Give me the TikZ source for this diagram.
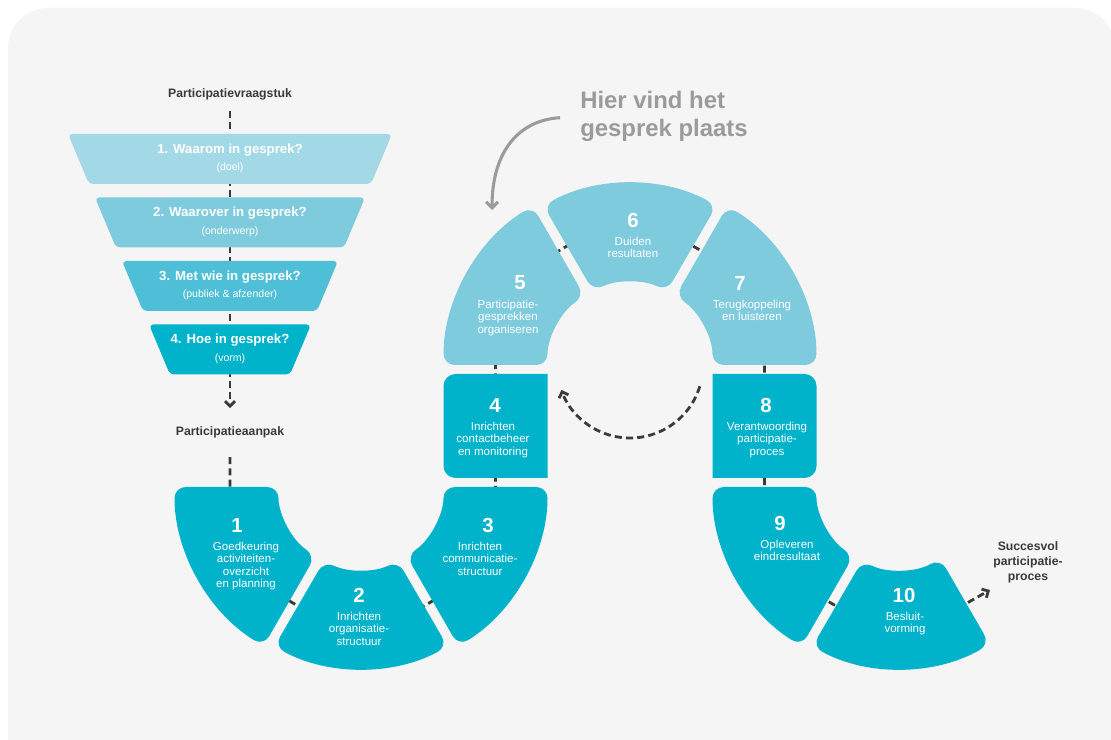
\documentclass[tikz,border=0pt]{standalone}
\usepackage{fontspec}
\setmainfont{Liberation Sans}
\usetikzlibrary{calc,arrows.meta}
\definecolor{achter}{HTML}{F5F5F5}
\definecolor{petrol}{HTML}{00B2CA}
\definecolor{licht}{HTML}{7ECBDD}
\definecolor{fblauw}{HTML}{A3D8E6}
\definecolor{mblauw}{HTML}{4EBFD6}
\definecolor{inkt}{HTML}{3A3A3A}
\definecolor{grijs}{HTML}{9B9B9B}
\tikzset{%
  tseg/.style={fill=petrol,rounded corners=8pt},
  lseg/.style={fill=licht,rounded corners=8pt},
  fseg/.style={rounded corners=3pt},
  snum/.style={text=white,inner sep=0,font=\bfseries\fontsize{14.5}{14.5}\selectfont},
  stxt/.style={text=white,inner sep=0,anchor=north,align=center,font=\fontsize{8.2}{8.7}\selectfont},
  ftitel/.style={text=white,inner sep=0,font=\bfseries\fontsize{9.4}{10}\selectfont},
  fsub/.style={text=white,inner sep=0,font=\fontsize{7.5}{8}\selectfont},
  klabel/.style={text=inkt,inner sep=0,align=center,font=\bfseries\fontsize{8.7}{10.7}\selectfont},
  dline/.style={draw=inkt,line width=2pt,dash pattern=on 5pt off 3pt}
}
\begin{document}
\begin{tikzpicture}[x=0.025cm,y=-0.025cm,>={Straight Barb[angle=90:5pt]}]
  \path[use as bounding box,fill=white] (0,0) rectangle (1111,740);
  \fill[achter,rounded corners=1cm] (8,8) rectangle (1115,780);
  \def\rin{82.5} \def\rout{186.5} \def\rmid{134.5}
  \coordinate (C1) at (361,487);
  \coordinate (C2) at (630,365);
  \coordinate (C3) at (899,487);
  \coordinate (ziel) at (492,210);
  \coordinate (eind) at (990,590);
  % labels
  \node[klabel] (vraag) at (230,94) {Participatievraagstuk};
  \node[klabel] (aanpak) at (230,432) {Participatieaanpak};
  \node[klabel] (succes) at (1028,562) {Succesvol\\participatie-\\proces};
  \node[text=grijs,inner sep=0,anchor=north west,align=left,font=\bfseries\fontsize{17}{20}\selectfont] (hier) at (580,91) {Hier vind het\\gesprek plaats};
  % dashed lines
  \draw[dline,->,shorten <=0.28cm,shorten >=0.45cm] (vraag) -- (aanpak);
  \draw[dline,->,shorten <=0.48cm] (aanpak) -- (aanpak |- C1) -- ($(C1)+(180:\rmid)$)
    arc[start angle=180,end angle=0,radius=\rmid] -- ($(C2)+(180:\rmid)$)
    arc[start angle=180,end angle=360,radius=\rmid] -- ($(C3)+(180:\rmid)$)
    arc[start angle=180,end angle=60,radius=\rmid] -- (eind);
  \draw[dline,->] ($(C2)+(17:73)$) arc[start angle=17,end angle=160,radius=73];
  \draw[grijs,line width=2.2pt,-{Straight Barb[angle=90:6pt]},shorten <=0.5cm]
    (hier.west) .. controls (520,120) and (492,150) .. (ziel);
  % funnel
  \foreach \i/\kl/\vr/\ond in {1/fblauw/1. Waarom in gesprek?/(doel),
      2/licht/2. Waarover in gesprek?/(onderwerp),
      3/mblauw/3. Met wie in gesprek?/(publiek \& afzender),
      4/petrol/4. Hoe in gesprek?/(vorm)}{
    \pgfmathsetmacro\ty{134+63.5*(\i-1)}
    \pgfmathsetmacro\hw{162-27*(\i-1)}
    \fill[fseg,\kl] (230-\hw,\ty) -- (230+\hw,\ty) -- (209+\hw,\ty+50) -- (251-\hw,\ty+50) -- cycle;
    \node[ftitel] (f\i) at (230,\ty+16) {\vr};
    \node[fsub] (fs\i) at (230,\ty+34) {\ond};
  }
  % snake
  \foreach \cen/\oa/\ob/\ia/\ib/\ro/\stijl in {C1/180/121.5/180/123.5/186.5/tseg,
      C1/118.5/61.5/116.5/63.5/181.5/tseg, C1/58.5/0/56.5/0/186.5/tseg,
      C2/180/238.5/180/236.5/186.5/lseg, C2/241.5/298.5/243.5/296.5/181.5/lseg,
      C2/301.5/360/303.5/360/186.5/lseg, C3/180/121.5/180/123.5/186.5/tseg,
      C3/118.5/60/116.5/60/181.5/tseg}
    \fill[\stijl] ($(\cen)+(\oa:\ro)$) arc[start angle=\oa,end angle=\ob,radius=\ro]
      -- ($(\cen)+(\ib:\rin)$) arc[start angle=\ib,end angle=\ia,radius=\rin] -- cycle;
  \fill[petrol] (547.5,374) -- (455.5,374) arc[start angle=270,end angle=180,radius=12]
    -- (443.5,466) arc[start angle=180,end angle=90,radius=12] -- (547.5,478) -- cycle;
  \fill[petrol] (712.5,374) -- (804.5,374) arc[start angle=270,end angle=360,radius=12]
    -- (816.5,466) arc[start angle=0,end angle=90,radius=12] -- (712.5,478) -- cycle;
  \foreach \i/\nx/\ny/\tx/\txt in {
      1/237/525/246/{Goedkeuring\\activiteiten-\\overzicht\\en planning},
      2/359/595/359/{Inrichten\\organisatie-\\structuur},
      3/488/525/480/{Inrichten\\communicatie-\\structuur},
      4/495/405/493/{Inrichten\\contactbeheer\\en monitoring},
      5/520/283/508/{Participatie-\\gesprekken\\organiseren},
      6/633/220/633/{Duiden\\resultaten},
      7/740/283/752/{Terugkoppeling\\en luisteren},
      8/766/405/767/{Verantwoording\\participatie-\\proces},
      9/780/523/787/{Opleveren\\eindresultaat},
      10/904/595/905/{Besluit-\\vorming}}{
    \node[snum] (n\i) at (\nx,\ny) {\i};
    \node[stxt] (t\i) at (\tx,\ny+17) {\txt};
  }
\end{tikzpicture}
\end{document}
